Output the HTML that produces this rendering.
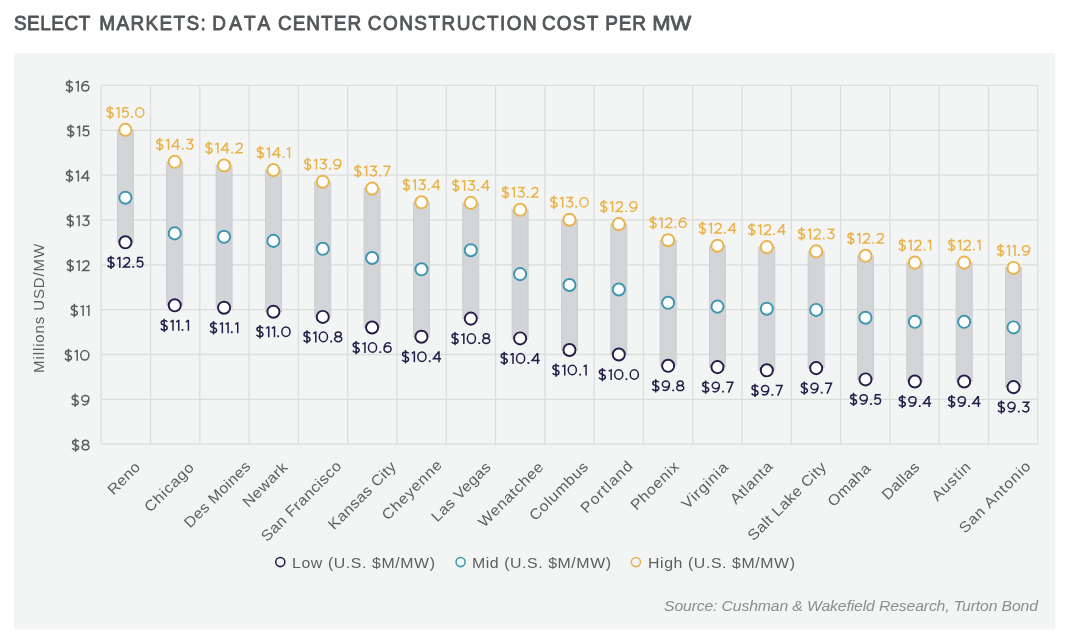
<!DOCTYPE html><html><head><meta charset="utf-8"><style>
html,body{margin:0;padding:0;background:#fff;width:1080px;height:643px;overflow:hidden}
svg{display:block;will-change:transform}
text{font-family:"Liberation Sans",sans-serif}
</style></head><body>
<svg width="1080" height="643" viewBox="0 0 1080 643">
<rect x="0" y="0" width="1080" height="643" fill="#ffffff"/>
<g font-size="20" fill="#53575a" stroke="#53575a" stroke-width="0.85" stroke-linejoin="round">
<text transform="translate(13.89 30) scale(0.95 1)" textLength="80.52" lengthAdjust="spacing">SELECT</text>
<text transform="translate(99.34 30) scale(0.95 1)" textLength="112.07" lengthAdjust="spacing">MARKETS:</text>
<text transform="translate(212.16 30) scale(0.95 1)" textLength="61.19" lengthAdjust="spacing">DATA</text>
<text transform="translate(277.92 30) scale(0.95 1)" textLength="87.63" lengthAdjust="spacing">CENTER</text>
<text transform="translate(367.83 30) scale(0.95 1)" textLength="177.72" lengthAdjust="spacing">CONSTRUCTION</text>
<text transform="translate(541.92 30) scale(0.95 1)" textLength="59.37" lengthAdjust="spacing">COST</text>
<text transform="translate(605.28 30) scale(0.95 1)" textLength="42.85" lengthAdjust="spacing">PER</text>
<text transform="translate(652.22 30)" textLength="39.01" lengthAdjust="spacingAndGlyphs">MW</text>
</g>
<rect x="14" y="53.1" width="1041.2" height="576.3" fill="#f3f4f4"/>
<path d="M101.20 85.43H1037.80 M101.20 130.28H1037.80 M101.20 175.12H1037.80 M101.20 219.97H1037.80 M101.20 264.81H1037.80 M101.20 309.66H1037.80 M101.20 354.51H1037.80 M101.20 399.35H1037.80 M101.20 444.20H1037.80 M101.20 85.43V444.20 M150.49 85.43V444.20 M199.79 85.43V444.20 M249.08 85.43V444.20 M298.38 85.43V444.20 M347.67 85.43V444.20 M396.97 85.43V444.20 M446.26 85.43V444.20 M495.56 85.43V444.20 M544.85 85.43V444.20 M594.15 85.43V444.20 M643.44 85.43V444.20 M692.74 85.43V444.20 M742.03 85.43V444.20 M791.33 85.43V444.20 M840.62 85.43V444.20 M889.92 85.43V444.20 M939.21 85.43V444.20 M988.51 85.43V444.20 M1037.80 85.43V444.20" stroke="#dcdddd" stroke-width="1.3" fill="none"/>
<g role="img" aria-label="$16"><g fill="none" stroke="#5c5f62" stroke-width="1.500"><path transform="translate(65.60 91.73) scale(1.0)" d="M6.95,-8.95 C6.35,-9.8 5.25,-10.275 3.8,-10.275 C2.0,-10.275 0.85,-9.4 0.85,-8.0 C0.85,-4.6 6.875,-6.6 6.875,-3.05 C6.875,-1.55 5.6,-0.725 3.8,-0.725 C2.15,-0.725 1.05,-1.3 0.45,-2.3 M3.8,-12.1 V1.2"/><path transform="translate(75.25 91.73) scale(1.0)" d="M2.975,-11 V0 M0.45,-8.75 L2.7,-10.45"/><path transform="translate(81.00 91.73) scale(1.0)" d="M0.725,-3.9 A3.575,3.175 0 1 0 7.875,-3.9 A3.575,3.175 0 1 0 0.725,-3.9 C0.725,-7.6 2.6,-10.275 5.0,-10.275 C6.0,-10.275 6.75,-9.95 7.35,-9.35"/></g></g>
<g role="img" aria-label="$15"><g fill="none" stroke="#5c5f62" stroke-width="1.500"><path transform="translate(66.85 136.58) scale(1.0)" d="M6.95,-8.95 C6.35,-9.8 5.25,-10.275 3.8,-10.275 C2.0,-10.275 0.85,-9.4 0.85,-8.0 C0.85,-4.6 6.875,-6.6 6.875,-3.05 C6.875,-1.55 5.6,-0.725 3.8,-0.725 C2.15,-0.725 1.05,-1.3 0.45,-2.3 M3.8,-12.1 V1.2"/><path transform="translate(76.50 136.58) scale(1.0)" d="M2.975,-11 V0 M0.45,-8.75 L2.7,-10.45"/><path transform="translate(82.25 136.58) scale(1.0)" d="M6.8,-10.275 H1.65 L1.15,-5.95 C1.95,-6.55 2.85,-6.85 3.85,-6.85 C5.6,-6.85 6.625,-5.5 6.625,-3.8 C6.625,-1.95 5.4,-0.725 3.7,-0.725 C2.3,-0.725 1.2,-1.35 0.6,-2.35"/></g></g>
<g role="img" aria-label="$14"><g fill="none" stroke="#5c5f62" stroke-width="1.500"><path transform="translate(65.70 181.42) scale(1.0)" d="M6.95,-8.95 C6.35,-9.8 5.25,-10.275 3.8,-10.275 C2.0,-10.275 0.85,-9.4 0.85,-8.0 C0.85,-4.6 6.875,-6.6 6.875,-3.05 C6.875,-1.55 5.6,-0.725 3.8,-0.725 C2.15,-0.725 1.05,-1.3 0.45,-2.3 M3.8,-12.1 V1.2"/><path transform="translate(75.35 181.42) scale(1.0)" d="M2.975,-11 V0 M0.45,-8.75 L2.7,-10.45"/><path transform="translate(81.10 181.42) scale(1.0)" d="M6.05,-10.45 L0.725,-3.4 H8.5 M6.35,-11 V0"/></g></g>
<g role="img" aria-label="$13"><g fill="none" stroke="#5c5f62" stroke-width="1.500"><path transform="translate(66.45 226.27) scale(1.0)" d="M6.95,-8.95 C6.35,-9.8 5.25,-10.275 3.8,-10.275 C2.0,-10.275 0.85,-9.4 0.85,-8.0 C0.85,-4.6 6.875,-6.6 6.875,-3.05 C6.875,-1.55 5.6,-0.725 3.8,-0.725 C2.15,-0.725 1.05,-1.3 0.45,-2.3 M3.8,-12.1 V1.2"/><path transform="translate(76.10 226.27) scale(1.0)" d="M2.975,-11 V0 M0.45,-8.75 L2.7,-10.45"/><path transform="translate(81.85 226.27) scale(1.0)" d="M0.75,-10.275 H6.85 L3.65,-6.55 C5.8,-6.55 7.025,-5.25 7.025,-3.55 C7.025,-1.8 5.7,-0.725 3.85,-0.725 C2.35,-0.725 1.15,-1.35 0.55,-2.45"/></g></g>
<g role="img" aria-label="$12"><g fill="none" stroke="#5c5f62" stroke-width="1.500"><path transform="translate(66.45 271.12) scale(1.0)" d="M6.95,-8.95 C6.35,-9.8 5.25,-10.275 3.8,-10.275 C2.0,-10.275 0.85,-9.4 0.85,-8.0 C0.85,-4.6 6.875,-6.6 6.875,-3.05 C6.875,-1.55 5.6,-0.725 3.8,-0.725 C2.15,-0.725 1.05,-1.3 0.45,-2.3 M3.8,-12.1 V1.2"/><path transform="translate(76.10 271.12) scale(1.0)" d="M2.975,-11 V0 M0.45,-8.75 L2.7,-10.45"/><path transform="translate(81.85 271.12) scale(1.0)" d="M0.8,-8.2 C1.25,-9.6 2.45,-10.275 3.95,-10.275 C5.75,-10.275 7.0,-9.15 7.0,-7.65 C7.0,-6.55 6.45,-5.75 5.35,-4.7 L0.95,-0.725 H7.75"/></g></g>
<g role="img" aria-label="$11"><g fill="none" stroke="#5c5f62" stroke-width="1.500"><path transform="translate(70.50 315.96) scale(1.0)" d="M6.95,-8.95 C6.35,-9.8 5.25,-10.275 3.8,-10.275 C2.0,-10.275 0.85,-9.4 0.85,-8.0 C0.85,-4.6 6.875,-6.6 6.875,-3.05 C6.875,-1.55 5.6,-0.725 3.8,-0.725 C2.15,-0.725 1.05,-1.3 0.45,-2.3 M3.8,-12.1 V1.2"/><path transform="translate(80.15 315.96) scale(1.0)" d="M2.975,-11 V0 M0.45,-8.75 L2.7,-10.45"/><path transform="translate(85.90 315.96) scale(1.0)" d="M2.975,-11 V0 M0.45,-8.75 L2.7,-10.45"/></g></g>
<g role="img" aria-label="$10"><g fill="none" stroke="#5c5f62" stroke-width="1.500"><path transform="translate(64.60 360.81) scale(1.0)" d="M6.95,-8.95 C6.35,-9.8 5.25,-10.275 3.8,-10.275 C2.0,-10.275 0.85,-9.4 0.85,-8.0 C0.85,-4.6 6.875,-6.6 6.875,-3.05 C6.875,-1.55 5.6,-0.725 3.8,-0.725 C2.15,-0.725 1.05,-1.3 0.45,-2.3 M3.8,-12.1 V1.2"/><path transform="translate(74.25 360.81) scale(1.0)" d="M2.975,-11 V0 M0.45,-8.75 L2.7,-10.45"/><path transform="translate(80.00 360.81) scale(1.0)" d="M0.725,-5.5 A4.075,4.775 0 1 0 8.875,-5.5 A4.075,4.775 0 1 0 0.725,-5.5 Z"/></g></g>
<g role="img" aria-label="$9"><g fill="none" stroke="#5c5f62" stroke-width="1.500"><path transform="translate(71.35 405.65) scale(1.0)" d="M6.95,-8.95 C6.35,-9.8 5.25,-10.275 3.8,-10.275 C2.0,-10.275 0.85,-9.4 0.85,-8.0 C0.85,-4.6 6.875,-6.6 6.875,-3.05 C6.875,-1.55 5.6,-0.725 3.8,-0.725 C2.15,-0.725 1.05,-1.3 0.45,-2.3 M3.8,-12.1 V1.2"/><path transform="translate(81.00 405.65) scale(1.0)" d="M7.875,-7.1 A3.575,3.175 0 1 0 0.725,-7.1 A3.575,3.175 0 1 0 7.875,-7.1 C7.875,-3.4 6.0,-0.725 3.6,-0.725 C2.6,-0.725 1.85,-1.05 1.25,-1.65"/></g></g>
<g role="img" aria-label="$8"><g fill="none" stroke="#5c5f62" stroke-width="1.500"><path transform="translate(71.75 450.50) scale(1.0)" d="M6.95,-8.95 C6.35,-9.8 5.25,-10.275 3.8,-10.275 C2.0,-10.275 0.85,-9.4 0.85,-8.0 C0.85,-4.6 6.875,-6.6 6.875,-3.05 C6.875,-1.55 5.6,-0.725 3.8,-0.725 C2.15,-0.725 1.05,-1.3 0.45,-2.3 M3.8,-12.1 V1.2"/><path transform="translate(81.40 450.50) scale(1.0)" d="M4.1,-5.9 A2.875,2.19 0 1 1 4.1,-10.275 A2.875,2.19 0 1 1 4.1,-5.9 A3.375,2.59 0 1 0 4.1,-0.725 A3.375,2.59 0 1 0 4.1,-5.9 Z"/></g></g>
<text id="axt" transform="translate(44.3 308.4) rotate(-90)" font-size="15" fill="#5c5f62" text-anchor="middle" textLength="129" lengthAdjust="spacing">Millions USD/MW</text>
<rect x="117.35" y="129.90" width="16.1" height="112.40" fill="#d3d4d7" stroke="#c9cacd" stroke-width="0.8"/>
<rect x="166.69" y="161.80" width="16.1" height="143.50" fill="#d3d4d7" stroke="#c9cacd" stroke-width="0.8"/>
<rect x="216.03" y="165.50" width="16.1" height="142.20" fill="#d3d4d7" stroke="#c9cacd" stroke-width="0.8"/>
<rect x="265.37" y="170.10" width="16.1" height="141.60" fill="#d3d4d7" stroke="#c9cacd" stroke-width="0.8"/>
<rect x="314.71" y="181.70" width="16.1" height="135.20" fill="#d3d4d7" stroke="#c9cacd" stroke-width="0.8"/>
<rect x="364.05" y="188.60" width="16.1" height="138.90" fill="#d3d4d7" stroke="#c9cacd" stroke-width="0.8"/>
<rect x="413.39" y="202.30" width="16.1" height="134.40" fill="#d3d4d7" stroke="#c9cacd" stroke-width="0.8"/>
<rect x="462.73" y="202.90" width="16.1" height="115.70" fill="#d3d4d7" stroke="#c9cacd" stroke-width="0.8"/>
<rect x="512.07" y="209.80" width="16.1" height="128.60" fill="#d3d4d7" stroke="#c9cacd" stroke-width="0.8"/>
<rect x="561.41" y="219.70" width="16.1" height="130.30" fill="#d3d4d7" stroke="#c9cacd" stroke-width="0.8"/>
<rect x="610.75" y="224.10" width="16.1" height="130.40" fill="#d3d4d7" stroke="#c9cacd" stroke-width="0.8"/>
<rect x="660.09" y="240.20" width="16.1" height="125.60" fill="#d3d4d7" stroke="#c9cacd" stroke-width="0.8"/>
<rect x="709.43" y="245.70" width="16.1" height="121.40" fill="#d3d4d7" stroke="#c9cacd" stroke-width="0.8"/>
<rect x="758.77" y="247.10" width="16.1" height="123.20" fill="#d3d4d7" stroke="#c9cacd" stroke-width="0.8"/>
<rect x="808.11" y="251.40" width="16.1" height="116.70" fill="#d3d4d7" stroke="#c9cacd" stroke-width="0.8"/>
<rect x="857.45" y="255.80" width="16.1" height="123.60" fill="#d3d4d7" stroke="#c9cacd" stroke-width="0.8"/>
<rect x="906.79" y="262.60" width="16.1" height="118.90" fill="#d3d4d7" stroke="#c9cacd" stroke-width="0.8"/>
<rect x="956.13" y="262.60" width="16.1" height="118.90" fill="#d3d4d7" stroke="#c9cacd" stroke-width="0.8"/>
<rect x="1005.47" y="267.90" width="16.1" height="119.20" fill="#d3d4d7" stroke="#c9cacd" stroke-width="0.8"/>
<circle cx="125.40" cy="129.90" r="6.05" fill="#fff" stroke="#e9b34a" stroke-width="1.95"/>
<circle cx="125.40" cy="197.70" r="6.05" fill="#fff" stroke="#3d96af" stroke-width="1.95"/>
<circle cx="125.40" cy="242.30" r="6.05" fill="#fff" stroke="#231f49" stroke-width="1.95"/>
<circle cx="174.74" cy="161.80" r="6.05" fill="#fff" stroke="#e9b34a" stroke-width="1.95"/>
<circle cx="174.74" cy="233.40" r="6.05" fill="#fff" stroke="#3d96af" stroke-width="1.95"/>
<circle cx="174.74" cy="305.30" r="6.05" fill="#fff" stroke="#231f49" stroke-width="1.95"/>
<circle cx="224.08" cy="165.50" r="6.05" fill="#fff" stroke="#e9b34a" stroke-width="1.95"/>
<circle cx="224.08" cy="236.80" r="6.05" fill="#fff" stroke="#3d96af" stroke-width="1.95"/>
<circle cx="224.08" cy="307.70" r="6.05" fill="#fff" stroke="#231f49" stroke-width="1.95"/>
<circle cx="273.42" cy="170.10" r="6.05" fill="#fff" stroke="#e9b34a" stroke-width="1.95"/>
<circle cx="273.42" cy="240.90" r="6.05" fill="#fff" stroke="#3d96af" stroke-width="1.95"/>
<circle cx="273.42" cy="311.70" r="6.05" fill="#fff" stroke="#231f49" stroke-width="1.95"/>
<circle cx="322.76" cy="181.70" r="6.05" fill="#fff" stroke="#e9b34a" stroke-width="1.95"/>
<circle cx="322.76" cy="248.80" r="6.05" fill="#fff" stroke="#3d96af" stroke-width="1.95"/>
<circle cx="322.76" cy="316.90" r="6.05" fill="#fff" stroke="#231f49" stroke-width="1.95"/>
<circle cx="372.10" cy="188.60" r="6.05" fill="#fff" stroke="#e9b34a" stroke-width="1.95"/>
<circle cx="372.10" cy="258.00" r="6.05" fill="#fff" stroke="#3d96af" stroke-width="1.95"/>
<circle cx="372.10" cy="327.50" r="6.05" fill="#fff" stroke="#231f49" stroke-width="1.95"/>
<circle cx="421.44" cy="202.30" r="6.05" fill="#fff" stroke="#e9b34a" stroke-width="1.95"/>
<circle cx="421.44" cy="269.30" r="6.05" fill="#fff" stroke="#3d96af" stroke-width="1.95"/>
<circle cx="421.44" cy="336.70" r="6.05" fill="#fff" stroke="#231f49" stroke-width="1.95"/>
<circle cx="470.78" cy="202.90" r="6.05" fill="#fff" stroke="#e9b34a" stroke-width="1.95"/>
<circle cx="470.78" cy="250.20" r="6.05" fill="#fff" stroke="#3d96af" stroke-width="1.95"/>
<circle cx="470.78" cy="318.60" r="6.05" fill="#fff" stroke="#231f49" stroke-width="1.95"/>
<circle cx="520.12" cy="209.80" r="6.05" fill="#fff" stroke="#e9b34a" stroke-width="1.95"/>
<circle cx="520.12" cy="274.10" r="6.05" fill="#fff" stroke="#3d96af" stroke-width="1.95"/>
<circle cx="520.12" cy="338.40" r="6.05" fill="#fff" stroke="#231f49" stroke-width="1.95"/>
<circle cx="569.46" cy="219.70" r="6.05" fill="#fff" stroke="#e9b34a" stroke-width="1.95"/>
<circle cx="569.46" cy="285.00" r="6.05" fill="#fff" stroke="#3d96af" stroke-width="1.95"/>
<circle cx="569.46" cy="350.00" r="6.05" fill="#fff" stroke="#231f49" stroke-width="1.95"/>
<circle cx="618.80" cy="224.10" r="6.05" fill="#fff" stroke="#e9b34a" stroke-width="1.95"/>
<circle cx="618.80" cy="289.50" r="6.05" fill="#fff" stroke="#3d96af" stroke-width="1.95"/>
<circle cx="618.80" cy="354.50" r="6.05" fill="#fff" stroke="#231f49" stroke-width="1.95"/>
<circle cx="668.14" cy="240.20" r="6.05" fill="#fff" stroke="#e9b34a" stroke-width="1.95"/>
<circle cx="668.14" cy="302.80" r="6.05" fill="#fff" stroke="#3d96af" stroke-width="1.95"/>
<circle cx="668.14" cy="365.80" r="6.05" fill="#fff" stroke="#231f49" stroke-width="1.95"/>
<circle cx="717.48" cy="245.70" r="6.05" fill="#fff" stroke="#e9b34a" stroke-width="1.95"/>
<circle cx="717.48" cy="306.60" r="6.05" fill="#fff" stroke="#3d96af" stroke-width="1.95"/>
<circle cx="717.48" cy="367.10" r="6.05" fill="#fff" stroke="#231f49" stroke-width="1.95"/>
<circle cx="766.82" cy="247.10" r="6.05" fill="#fff" stroke="#e9b34a" stroke-width="1.95"/>
<circle cx="766.82" cy="308.70" r="6.05" fill="#fff" stroke="#3d96af" stroke-width="1.95"/>
<circle cx="766.82" cy="370.30" r="6.05" fill="#fff" stroke="#231f49" stroke-width="1.95"/>
<circle cx="816.16" cy="251.40" r="6.05" fill="#fff" stroke="#e9b34a" stroke-width="1.95"/>
<circle cx="816.16" cy="309.90" r="6.05" fill="#fff" stroke="#3d96af" stroke-width="1.95"/>
<circle cx="816.16" cy="368.10" r="6.05" fill="#fff" stroke="#231f49" stroke-width="1.95"/>
<circle cx="865.50" cy="255.80" r="6.05" fill="#fff" stroke="#e9b34a" stroke-width="1.95"/>
<circle cx="865.50" cy="317.70" r="6.05" fill="#fff" stroke="#3d96af" stroke-width="1.95"/>
<circle cx="865.50" cy="379.40" r="6.05" fill="#fff" stroke="#231f49" stroke-width="1.95"/>
<circle cx="914.84" cy="262.60" r="6.05" fill="#fff" stroke="#e9b34a" stroke-width="1.95"/>
<circle cx="914.84" cy="321.80" r="6.05" fill="#fff" stroke="#3d96af" stroke-width="1.95"/>
<circle cx="914.84" cy="381.50" r="6.05" fill="#fff" stroke="#231f49" stroke-width="1.95"/>
<circle cx="964.18" cy="262.60" r="6.05" fill="#fff" stroke="#e9b34a" stroke-width="1.95"/>
<circle cx="964.18" cy="321.80" r="6.05" fill="#fff" stroke="#3d96af" stroke-width="1.95"/>
<circle cx="964.18" cy="381.50" r="6.05" fill="#fff" stroke="#231f49" stroke-width="1.95"/>
<circle cx="1013.52" cy="267.90" r="6.05" fill="#fff" stroke="#e9b34a" stroke-width="1.95"/>
<circle cx="1013.52" cy="327.40" r="6.05" fill="#fff" stroke="#3d96af" stroke-width="1.95"/>
<circle cx="1013.52" cy="387.10" r="6.05" fill="#fff" stroke="#231f49" stroke-width="1.95"/>
<g role="img" aria-label="$15.0"><g fill="none" stroke="#e9b34a" stroke-width="1.500"><path transform="translate(106.25 117.90) scale(1.0)" d="M6.95,-8.95 C6.35,-9.8 5.25,-10.275 3.8,-10.275 C2.0,-10.275 0.85,-9.4 0.85,-8.0 C0.85,-4.6 6.875,-6.6 6.875,-3.05 C6.875,-1.55 5.6,-0.725 3.8,-0.725 C2.15,-0.725 1.05,-1.3 0.45,-2.3 M3.8,-12.1 V1.2"/><path transform="translate(115.90 117.90) scale(1.0)" d="M2.975,-11 V0 M0.45,-8.75 L2.7,-10.45"/><path transform="translate(121.65 117.90) scale(1.0)" d="M6.8,-10.275 H1.65 L1.15,-5.95 C1.95,-6.55 2.85,-6.85 3.85,-6.85 C5.6,-6.85 6.625,-5.5 6.625,-3.8 C6.625,-1.95 5.4,-0.725 3.7,-0.725 C2.3,-0.725 1.2,-1.35 0.6,-2.35"/><path transform="translate(134.95 117.90) scale(1.0)" d="M0.725,-5.5 A4.075,4.775 0 1 0 8.875,-5.5 A4.075,4.775 0 1 0 0.725,-5.5 Z"/></g><g fill="#e9b34a"><rect x="131.05" y="116.05" width="1.85" height="1.85" rx="0.35"/></g></g>
<g role="img" aria-label="$12.5"><g fill="none" stroke="#231f49" stroke-width="1.500"><path transform="translate(107.18 267.80) scale(1.0)" d="M6.95,-8.95 C6.35,-9.8 5.25,-10.275 3.8,-10.275 C2.0,-10.275 0.85,-9.4 0.85,-8.0 C0.85,-4.6 6.875,-6.6 6.875,-3.05 C6.875,-1.55 5.6,-0.725 3.8,-0.725 C2.15,-0.725 1.05,-1.3 0.45,-2.3 M3.8,-12.1 V1.2"/><path transform="translate(116.83 267.80) scale(1.0)" d="M2.975,-11 V0 M0.45,-8.75 L2.7,-10.45"/><path transform="translate(122.58 267.80) scale(1.0)" d="M0.8,-8.2 C1.25,-9.6 2.45,-10.275 3.95,-10.275 C5.75,-10.275 7.0,-9.15 7.0,-7.65 C7.0,-6.55 6.45,-5.75 5.35,-4.7 L0.95,-0.725 H7.75"/><path transform="translate(136.28 267.80) scale(1.0)" d="M6.8,-10.275 H1.65 L1.15,-5.95 C1.95,-6.55 2.85,-6.85 3.85,-6.85 C5.6,-6.85 6.625,-5.5 6.625,-3.8 C6.625,-1.95 5.4,-0.725 3.7,-0.725 C2.3,-0.725 1.2,-1.35 0.6,-2.35"/></g><g fill="#231f49"><rect x="132.38" y="265.95" width="1.85" height="1.85" rx="0.35"/></g></g>
<g role="img" aria-label="$14.3"><g fill="none" stroke="#e9b34a" stroke-width="1.500"><path transform="translate(155.94 149.80) scale(1.0)" d="M6.95,-8.95 C6.35,-9.8 5.25,-10.275 3.8,-10.275 C2.0,-10.275 0.85,-9.4 0.85,-8.0 C0.85,-4.6 6.875,-6.6 6.875,-3.05 C6.875,-1.55 5.6,-0.725 3.8,-0.725 C2.15,-0.725 1.05,-1.3 0.45,-2.3 M3.8,-12.1 V1.2"/><path transform="translate(165.59 149.80) scale(1.0)" d="M2.975,-11 V0 M0.45,-8.75 L2.7,-10.45"/><path transform="translate(171.34 149.80) scale(1.0)" d="M6.05,-10.45 L0.725,-3.4 H8.5 M6.35,-11 V0"/><path transform="translate(185.79 149.80) scale(1.0)" d="M0.75,-10.275 H6.85 L3.65,-6.55 C5.8,-6.55 7.025,-5.25 7.025,-3.55 C7.025,-1.8 5.7,-0.725 3.85,-0.725 C2.35,-0.725 1.15,-1.35 0.55,-2.45"/></g><g fill="#e9b34a"><rect x="181.89" y="147.95" width="1.85" height="1.85" rx="0.35"/></g></g>
<g role="img" aria-label="$11.1"><g fill="none" stroke="#231f49" stroke-width="1.500"><path transform="translate(160.37 330.80) scale(1.0)" d="M6.95,-8.95 C6.35,-9.8 5.25,-10.275 3.8,-10.275 C2.0,-10.275 0.85,-9.4 0.85,-8.0 C0.85,-4.6 6.875,-6.6 6.875,-3.05 C6.875,-1.55 5.6,-0.725 3.8,-0.725 C2.15,-0.725 1.05,-1.3 0.45,-2.3 M3.8,-12.1 V1.2"/><path transform="translate(170.02 330.80) scale(1.0)" d="M2.975,-11 V0 M0.45,-8.75 L2.7,-10.45"/><path transform="translate(175.77 330.80) scale(1.0)" d="M2.975,-11 V0 M0.45,-8.75 L2.7,-10.45"/><path transform="translate(185.42 330.80) scale(1.0)" d="M2.975,-11 V0 M0.45,-8.75 L2.7,-10.45"/></g><g fill="#231f49"><rect x="181.52" y="328.95" width="1.85" height="1.85" rx="0.35"/></g></g>
<g role="img" aria-label="$14.2"><g fill="none" stroke="#e9b34a" stroke-width="1.500"><path transform="translate(205.28 153.50) scale(1.0)" d="M6.95,-8.95 C6.35,-9.8 5.25,-10.275 3.8,-10.275 C2.0,-10.275 0.85,-9.4 0.85,-8.0 C0.85,-4.6 6.875,-6.6 6.875,-3.05 C6.875,-1.55 5.6,-0.725 3.8,-0.725 C2.15,-0.725 1.05,-1.3 0.45,-2.3 M3.8,-12.1 V1.2"/><path transform="translate(214.93 153.50) scale(1.0)" d="M2.975,-11 V0 M0.45,-8.75 L2.7,-10.45"/><path transform="translate(220.68 153.50) scale(1.0)" d="M6.05,-10.45 L0.725,-3.4 H8.5 M6.35,-11 V0"/><path transform="translate(235.13 153.50) scale(1.0)" d="M0.8,-8.2 C1.25,-9.6 2.45,-10.275 3.95,-10.275 C5.75,-10.275 7.0,-9.15 7.0,-7.65 C7.0,-6.55 6.45,-5.75 5.35,-4.7 L0.95,-0.725 H7.75"/></g><g fill="#e9b34a"><rect x="231.23" y="151.65" width="1.85" height="1.85" rx="0.35"/></g></g>
<g role="img" aria-label="$11.1"><g fill="none" stroke="#231f49" stroke-width="1.500"><path transform="translate(209.71 333.20) scale(1.0)" d="M6.95,-8.95 C6.35,-9.8 5.25,-10.275 3.8,-10.275 C2.0,-10.275 0.85,-9.4 0.85,-8.0 C0.85,-4.6 6.875,-6.6 6.875,-3.05 C6.875,-1.55 5.6,-0.725 3.8,-0.725 C2.15,-0.725 1.05,-1.3 0.45,-2.3 M3.8,-12.1 V1.2"/><path transform="translate(219.36 333.20) scale(1.0)" d="M2.975,-11 V0 M0.45,-8.75 L2.7,-10.45"/><path transform="translate(225.11 333.20) scale(1.0)" d="M2.975,-11 V0 M0.45,-8.75 L2.7,-10.45"/><path transform="translate(234.76 333.20) scale(1.0)" d="M2.975,-11 V0 M0.45,-8.75 L2.7,-10.45"/></g><g fill="#231f49"><rect x="230.86" y="331.35" width="1.85" height="1.85" rx="0.35"/></g></g>
<g role="img" aria-label="$14.1"><g fill="none" stroke="#e9b34a" stroke-width="1.500"><path transform="translate(256.65 158.10) scale(1.0)" d="M6.95,-8.95 C6.35,-9.8 5.25,-10.275 3.8,-10.275 C2.0,-10.275 0.85,-9.4 0.85,-8.0 C0.85,-4.6 6.875,-6.6 6.875,-3.05 C6.875,-1.55 5.6,-0.725 3.8,-0.725 C2.15,-0.725 1.05,-1.3 0.45,-2.3 M3.8,-12.1 V1.2"/><path transform="translate(266.30 158.10) scale(1.0)" d="M2.975,-11 V0 M0.45,-8.75 L2.7,-10.45"/><path transform="translate(272.05 158.10) scale(1.0)" d="M6.05,-10.45 L0.725,-3.4 H8.5 M6.35,-11 V0"/><path transform="translate(286.50 158.10) scale(1.0)" d="M2.975,-11 V0 M0.45,-8.75 L2.7,-10.45"/></g><g fill="#e9b34a"><rect x="282.60" y="156.25" width="1.85" height="1.85" rx="0.35"/></g></g>
<g role="img" aria-label="$11.0"><g fill="none" stroke="#231f49" stroke-width="1.500"><path transform="translate(256.10 337.20) scale(1.0)" d="M6.95,-8.95 C6.35,-9.8 5.25,-10.275 3.8,-10.275 C2.0,-10.275 0.85,-9.4 0.85,-8.0 C0.85,-4.6 6.875,-6.6 6.875,-3.05 C6.875,-1.55 5.6,-0.725 3.8,-0.725 C2.15,-0.725 1.05,-1.3 0.45,-2.3 M3.8,-12.1 V1.2"/><path transform="translate(265.75 337.20) scale(1.0)" d="M2.975,-11 V0 M0.45,-8.75 L2.7,-10.45"/><path transform="translate(271.50 337.20) scale(1.0)" d="M2.975,-11 V0 M0.45,-8.75 L2.7,-10.45"/><path transform="translate(281.14 337.20) scale(1.0)" d="M0.725,-5.5 A4.075,4.775 0 1 0 8.875,-5.5 A4.075,4.775 0 1 0 0.725,-5.5 Z"/></g><g fill="#231f49"><rect x="277.25" y="335.35" width="1.85" height="1.85" rx="0.35"/></g></g>
<g role="img" aria-label="$13.9"><g fill="none" stroke="#e9b34a" stroke-width="1.500"><path transform="translate(303.91 169.70) scale(1.0)" d="M6.95,-8.95 C6.35,-9.8 5.25,-10.275 3.8,-10.275 C2.0,-10.275 0.85,-9.4 0.85,-8.0 C0.85,-4.6 6.875,-6.6 6.875,-3.05 C6.875,-1.55 5.6,-0.725 3.8,-0.725 C2.15,-0.725 1.05,-1.3 0.45,-2.3 M3.8,-12.1 V1.2"/><path transform="translate(313.56 169.70) scale(1.0)" d="M2.975,-11 V0 M0.45,-8.75 L2.7,-10.45"/><path transform="translate(319.31 169.70) scale(1.0)" d="M0.75,-10.275 H6.85 L3.65,-6.55 C5.8,-6.55 7.025,-5.25 7.025,-3.55 C7.025,-1.8 5.7,-0.725 3.85,-0.725 C2.35,-0.725 1.15,-1.35 0.55,-2.45"/><path transform="translate(333.01 169.70) scale(1.0)" d="M7.875,-7.1 A3.575,3.175 0 1 0 0.725,-7.1 A3.575,3.175 0 1 0 7.875,-7.1 C7.875,-3.4 6.0,-0.725 3.6,-0.725 C2.6,-0.725 1.85,-1.05 1.25,-1.65"/></g><g fill="#e9b34a"><rect x="329.11" y="167.85" width="1.85" height="1.85" rx="0.35"/></g></g>
<g role="img" aria-label="$10.8"><g fill="none" stroke="#231f49" stroke-width="1.500"><path transform="translate(303.19 342.40) scale(1.0)" d="M6.95,-8.95 C6.35,-9.8 5.25,-10.275 3.8,-10.275 C2.0,-10.275 0.85,-9.4 0.85,-8.0 C0.85,-4.6 6.875,-6.6 6.875,-3.05 C6.875,-1.55 5.6,-0.725 3.8,-0.725 C2.15,-0.725 1.05,-1.3 0.45,-2.3 M3.8,-12.1 V1.2"/><path transform="translate(312.83 342.40) scale(1.0)" d="M2.975,-11 V0 M0.45,-8.75 L2.7,-10.45"/><path transform="translate(318.58 342.40) scale(1.0)" d="M0.725,-5.5 A4.075,4.775 0 1 0 8.875,-5.5 A4.075,4.775 0 1 0 0.725,-5.5 Z"/><path transform="translate(334.13 342.40) scale(1.0)" d="M4.1,-5.9 A2.875,2.19 0 1 1 4.1,-10.275 A2.875,2.19 0 1 1 4.1,-5.9 A3.375,2.59 0 1 0 4.1,-0.725 A3.375,2.59 0 1 0 4.1,-5.9 Z"/></g><g fill="#231f49"><rect x="330.23" y="340.55" width="1.85" height="1.85" rx="0.35"/></g></g>
<g role="img" aria-label="$13.7"><g fill="none" stroke="#e9b34a" stroke-width="1.500"><path transform="translate(354.00 176.60) scale(1.0)" d="M6.95,-8.95 C6.35,-9.8 5.25,-10.275 3.8,-10.275 C2.0,-10.275 0.85,-9.4 0.85,-8.0 C0.85,-4.6 6.875,-6.6 6.875,-3.05 C6.875,-1.55 5.6,-0.725 3.8,-0.725 C2.15,-0.725 1.05,-1.3 0.45,-2.3 M3.8,-12.1 V1.2"/><path transform="translate(363.65 176.60) scale(1.0)" d="M2.975,-11 V0 M0.45,-8.75 L2.7,-10.45"/><path transform="translate(369.40 176.60) scale(1.0)" d="M0.75,-10.275 H6.85 L3.65,-6.55 C5.8,-6.55 7.025,-5.25 7.025,-3.55 C7.025,-1.8 5.7,-0.725 3.85,-0.725 C2.35,-0.725 1.15,-1.35 0.55,-2.45"/><path transform="translate(383.10 176.60) scale(1.0)" d="M0.3,-10.275 H6.75 L2.35,0"/></g><g fill="#e9b34a"><rect x="379.20" y="174.75" width="1.85" height="1.85" rx="0.35"/></g></g>
<g role="img" aria-label="$10.6"><g fill="none" stroke="#231f49" stroke-width="1.500"><path transform="translate(352.33 353.00) scale(1.0)" d="M6.95,-8.95 C6.35,-9.8 5.25,-10.275 3.8,-10.275 C2.0,-10.275 0.85,-9.4 0.85,-8.0 C0.85,-4.6 6.875,-6.6 6.875,-3.05 C6.875,-1.55 5.6,-0.725 3.8,-0.725 C2.15,-0.725 1.05,-1.3 0.45,-2.3 M3.8,-12.1 V1.2"/><path transform="translate(361.98 353.00) scale(1.0)" d="M2.975,-11 V0 M0.45,-8.75 L2.7,-10.45"/><path transform="translate(367.73 353.00) scale(1.0)" d="M0.725,-5.5 A4.075,4.775 0 1 0 8.875,-5.5 A4.075,4.775 0 1 0 0.725,-5.5 Z"/><path transform="translate(383.27 353.00) scale(1.0)" d="M0.725,-3.9 A3.575,3.175 0 1 0 7.875,-3.9 A3.575,3.175 0 1 0 0.725,-3.9 C0.725,-7.6 2.6,-10.275 5.0,-10.275 C6.0,-10.275 6.75,-9.95 7.35,-9.35"/></g><g fill="#231f49"><rect x="379.38" y="351.15" width="1.85" height="1.85" rx="0.35"/></g></g>
<g role="img" aria-label="$13.4"><g fill="none" stroke="#e9b34a" stroke-width="1.500"><path transform="translate(402.64 190.30) scale(1.0)" d="M6.95,-8.95 C6.35,-9.8 5.25,-10.275 3.8,-10.275 C2.0,-10.275 0.85,-9.4 0.85,-8.0 C0.85,-4.6 6.875,-6.6 6.875,-3.05 C6.875,-1.55 5.6,-0.725 3.8,-0.725 C2.15,-0.725 1.05,-1.3 0.45,-2.3 M3.8,-12.1 V1.2"/><path transform="translate(412.29 190.30) scale(1.0)" d="M2.975,-11 V0 M0.45,-8.75 L2.7,-10.45"/><path transform="translate(418.04 190.30) scale(1.0)" d="M0.75,-10.275 H6.85 L3.65,-6.55 C5.8,-6.55 7.025,-5.25 7.025,-3.55 C7.025,-1.8 5.7,-0.725 3.85,-0.725 C2.35,-0.725 1.15,-1.35 0.55,-2.45"/><path transform="translate(431.74 190.30) scale(1.0)" d="M6.05,-10.45 L0.725,-3.4 H8.5 M6.35,-11 V0"/></g><g fill="#e9b34a"><rect x="427.84" y="188.45" width="1.85" height="1.85" rx="0.35"/></g></g>
<g role="img" aria-label="$10.4"><g fill="none" stroke="#231f49" stroke-width="1.500"><path transform="translate(401.72 362.20) scale(1.0)" d="M6.95,-8.95 C6.35,-9.8 5.25,-10.275 3.8,-10.275 C2.0,-10.275 0.85,-9.4 0.85,-8.0 C0.85,-4.6 6.875,-6.6 6.875,-3.05 C6.875,-1.55 5.6,-0.725 3.8,-0.725 C2.15,-0.725 1.05,-1.3 0.45,-2.3 M3.8,-12.1 V1.2"/><path transform="translate(411.37 362.20) scale(1.0)" d="M2.975,-11 V0 M0.45,-8.75 L2.7,-10.45"/><path transform="translate(417.12 362.20) scale(1.0)" d="M0.725,-5.5 A4.075,4.775 0 1 0 8.875,-5.5 A4.075,4.775 0 1 0 0.725,-5.5 Z"/><path transform="translate(432.66 362.20) scale(1.0)" d="M6.05,-10.45 L0.725,-3.4 H8.5 M6.35,-11 V0"/></g><g fill="#231f49"><rect x="428.76" y="360.35" width="1.85" height="1.85" rx="0.35"/></g></g>
<g role="img" aria-label="$13.4"><g fill="none" stroke="#e9b34a" stroke-width="1.500"><path transform="translate(451.98 190.90) scale(1.0)" d="M6.95,-8.95 C6.35,-9.8 5.25,-10.275 3.8,-10.275 C2.0,-10.275 0.85,-9.4 0.85,-8.0 C0.85,-4.6 6.875,-6.6 6.875,-3.05 C6.875,-1.55 5.6,-0.725 3.8,-0.725 C2.15,-0.725 1.05,-1.3 0.45,-2.3 M3.8,-12.1 V1.2"/><path transform="translate(461.63 190.90) scale(1.0)" d="M2.975,-11 V0 M0.45,-8.75 L2.7,-10.45"/><path transform="translate(467.38 190.90) scale(1.0)" d="M0.75,-10.275 H6.85 L3.65,-6.55 C5.8,-6.55 7.025,-5.25 7.025,-3.55 C7.025,-1.8 5.7,-0.725 3.85,-0.725 C2.35,-0.725 1.15,-1.35 0.55,-2.45"/><path transform="translate(481.08 190.90) scale(1.0)" d="M6.05,-10.45 L0.725,-3.4 H8.5 M6.35,-11 V0"/></g><g fill="#e9b34a"><rect x="477.18" y="189.05" width="1.85" height="1.85" rx="0.35"/></g></g>
<g role="img" aria-label="$10.8"><g fill="none" stroke="#231f49" stroke-width="1.500"><path transform="translate(451.20 344.10) scale(1.0)" d="M6.95,-8.95 C6.35,-9.8 5.25,-10.275 3.8,-10.275 C2.0,-10.275 0.85,-9.4 0.85,-8.0 C0.85,-4.6 6.875,-6.6 6.875,-3.05 C6.875,-1.55 5.6,-0.725 3.8,-0.725 C2.15,-0.725 1.05,-1.3 0.45,-2.3 M3.8,-12.1 V1.2"/><path transform="translate(460.85 344.10) scale(1.0)" d="M2.975,-11 V0 M0.45,-8.75 L2.7,-10.45"/><path transform="translate(466.60 344.10) scale(1.0)" d="M0.725,-5.5 A4.075,4.775 0 1 0 8.875,-5.5 A4.075,4.775 0 1 0 0.725,-5.5 Z"/><path transform="translate(482.15 344.10) scale(1.0)" d="M4.1,-5.9 A2.875,2.19 0 1 1 4.1,-10.275 A2.875,2.19 0 1 1 4.1,-5.9 A3.375,2.59 0 1 0 4.1,-0.725 A3.375,2.59 0 1 0 4.1,-5.9 Z"/></g><g fill="#231f49"><rect x="478.25" y="342.25" width="1.85" height="1.85" rx="0.35"/></g></g>
<g role="img" aria-label="$13.2"><g fill="none" stroke="#e9b34a" stroke-width="1.500"><path transform="translate(501.69 197.80) scale(1.0)" d="M6.95,-8.95 C6.35,-9.8 5.25,-10.275 3.8,-10.275 C2.0,-10.275 0.85,-9.4 0.85,-8.0 C0.85,-4.6 6.875,-6.6 6.875,-3.05 C6.875,-1.55 5.6,-0.725 3.8,-0.725 C2.15,-0.725 1.05,-1.3 0.45,-2.3 M3.8,-12.1 V1.2"/><path transform="translate(511.34 197.80) scale(1.0)" d="M2.975,-11 V0 M0.45,-8.75 L2.7,-10.45"/><path transform="translate(517.10 197.80) scale(1.0)" d="M0.75,-10.275 H6.85 L3.65,-6.55 C5.8,-6.55 7.025,-5.25 7.025,-3.55 C7.025,-1.8 5.7,-0.725 3.85,-0.725 C2.35,-0.725 1.15,-1.35 0.55,-2.45"/><path transform="translate(530.79 197.80) scale(1.0)" d="M0.8,-8.2 C1.25,-9.6 2.45,-10.275 3.95,-10.275 C5.75,-10.275 7.0,-9.15 7.0,-7.65 C7.0,-6.55 6.45,-5.75 5.35,-4.7 L0.95,-0.725 H7.75"/></g><g fill="#e9b34a"><rect x="526.89" y="195.95" width="1.85" height="1.85" rx="0.35"/></g></g>
<g role="img" aria-label="$10.4"><g fill="none" stroke="#231f49" stroke-width="1.500"><path transform="translate(500.39 363.90) scale(1.0)" d="M6.95,-8.95 C6.35,-9.8 5.25,-10.275 3.8,-10.275 C2.0,-10.275 0.85,-9.4 0.85,-8.0 C0.85,-4.6 6.875,-6.6 6.875,-3.05 C6.875,-1.55 5.6,-0.725 3.8,-0.725 C2.15,-0.725 1.05,-1.3 0.45,-2.3 M3.8,-12.1 V1.2"/><path transform="translate(510.04 363.90) scale(1.0)" d="M2.975,-11 V0 M0.45,-8.75 L2.7,-10.45"/><path transform="translate(515.79 363.90) scale(1.0)" d="M0.725,-5.5 A4.075,4.775 0 1 0 8.875,-5.5 A4.075,4.775 0 1 0 0.725,-5.5 Z"/><path transform="translate(531.34 363.90) scale(1.0)" d="M6.05,-10.45 L0.725,-3.4 H8.5 M6.35,-11 V0"/></g><g fill="#231f49"><rect x="527.44" y="362.05" width="1.85" height="1.85" rx="0.35"/></g></g>
<g role="img" aria-label="$13.0"><g fill="none" stroke="#e9b34a" stroke-width="1.500"><path transform="translate(550.11 207.70) scale(1.0)" d="M6.95,-8.95 C6.35,-9.8 5.25,-10.275 3.8,-10.275 C2.0,-10.275 0.85,-9.4 0.85,-8.0 C0.85,-4.6 6.875,-6.6 6.875,-3.05 C6.875,-1.55 5.6,-0.725 3.8,-0.725 C2.15,-0.725 1.05,-1.3 0.45,-2.3 M3.8,-12.1 V1.2"/><path transform="translate(559.76 207.70) scale(1.0)" d="M2.975,-11 V0 M0.45,-8.75 L2.7,-10.45"/><path transform="translate(565.51 207.70) scale(1.0)" d="M0.75,-10.275 H6.85 L3.65,-6.55 C5.8,-6.55 7.025,-5.25 7.025,-3.55 C7.025,-1.8 5.7,-0.725 3.85,-0.725 C2.35,-0.725 1.15,-1.35 0.55,-2.45"/><path transform="translate(579.21 207.70) scale(1.0)" d="M0.725,-5.5 A4.075,4.775 0 1 0 8.875,-5.5 A4.075,4.775 0 1 0 0.725,-5.5 Z"/></g><g fill="#e9b34a"><rect x="575.31" y="205.85" width="1.85" height="1.85" rx="0.35"/></g></g>
<g role="img" aria-label="$10.1"><g fill="none" stroke="#231f49" stroke-width="1.500"><path transform="translate(552.13 375.50) scale(1.0)" d="M6.95,-8.95 C6.35,-9.8 5.25,-10.275 3.8,-10.275 C2.0,-10.275 0.85,-9.4 0.85,-8.0 C0.85,-4.6 6.875,-6.6 6.875,-3.05 C6.875,-1.55 5.6,-0.725 3.8,-0.725 C2.15,-0.725 1.05,-1.3 0.45,-2.3 M3.8,-12.1 V1.2"/><path transform="translate(561.78 375.50) scale(1.0)" d="M2.975,-11 V0 M0.45,-8.75 L2.7,-10.45"/><path transform="translate(567.53 375.50) scale(1.0)" d="M0.725,-5.5 A4.075,4.775 0 1 0 8.875,-5.5 A4.075,4.775 0 1 0 0.725,-5.5 Z"/><path transform="translate(583.08 375.50) scale(1.0)" d="M2.975,-11 V0 M0.45,-8.75 L2.7,-10.45"/></g><g fill="#231f49"><rect x="579.18" y="373.65" width="1.85" height="1.85" rx="0.35"/></g></g>
<g role="img" aria-label="$12.9"><g fill="none" stroke="#e9b34a" stroke-width="1.500"><path transform="translate(599.95 212.10) scale(1.0)" d="M6.95,-8.95 C6.35,-9.8 5.25,-10.275 3.8,-10.275 C2.0,-10.275 0.85,-9.4 0.85,-8.0 C0.85,-4.6 6.875,-6.6 6.875,-3.05 C6.875,-1.55 5.6,-0.725 3.8,-0.725 C2.15,-0.725 1.05,-1.3 0.45,-2.3 M3.8,-12.1 V1.2"/><path transform="translate(609.60 212.10) scale(1.0)" d="M2.975,-11 V0 M0.45,-8.75 L2.7,-10.45"/><path transform="translate(615.35 212.10) scale(1.0)" d="M0.8,-8.2 C1.25,-9.6 2.45,-10.275 3.95,-10.275 C5.75,-10.275 7.0,-9.15 7.0,-7.65 C7.0,-6.55 6.45,-5.75 5.35,-4.7 L0.95,-0.725 H7.75"/><path transform="translate(629.05 212.10) scale(1.0)" d="M7.875,-7.1 A3.575,3.175 0 1 0 0.725,-7.1 A3.575,3.175 0 1 0 7.875,-7.1 C7.875,-3.4 6.0,-0.725 3.6,-0.725 C2.6,-0.725 1.85,-1.05 1.25,-1.65"/></g><g fill="#e9b34a"><rect x="625.15" y="210.25" width="1.85" height="1.85" rx="0.35"/></g></g>
<g role="img" aria-label="$10.0"><g fill="none" stroke="#231f49" stroke-width="1.500"><path transform="translate(598.53 380.00) scale(1.0)" d="M6.95,-8.95 C6.35,-9.8 5.25,-10.275 3.8,-10.275 C2.0,-10.275 0.85,-9.4 0.85,-8.0 C0.85,-4.6 6.875,-6.6 6.875,-3.05 C6.875,-1.55 5.6,-0.725 3.8,-0.725 C2.15,-0.725 1.05,-1.3 0.45,-2.3 M3.8,-12.1 V1.2"/><path transform="translate(608.18 380.00) scale(1.0)" d="M2.975,-11 V0 M0.45,-8.75 L2.7,-10.45"/><path transform="translate(613.93 380.00) scale(1.0)" d="M0.725,-5.5 A4.075,4.775 0 1 0 8.875,-5.5 A4.075,4.775 0 1 0 0.725,-5.5 Z"/><path transform="translate(629.48 380.00) scale(1.0)" d="M0.725,-5.5 A4.075,4.775 0 1 0 8.875,-5.5 A4.075,4.775 0 1 0 0.725,-5.5 Z"/></g><g fill="#231f49"><rect x="625.58" y="378.15" width="1.85" height="1.85" rx="0.35"/></g></g>
<g role="img" aria-label="$12.6"><g fill="none" stroke="#e9b34a" stroke-width="1.500"><path transform="translate(649.29 228.20) scale(1.0)" d="M6.95,-8.95 C6.35,-9.8 5.25,-10.275 3.8,-10.275 C2.0,-10.275 0.85,-9.4 0.85,-8.0 C0.85,-4.6 6.875,-6.6 6.875,-3.05 C6.875,-1.55 5.6,-0.725 3.8,-0.725 C2.15,-0.725 1.05,-1.3 0.45,-2.3 M3.8,-12.1 V1.2"/><path transform="translate(658.94 228.20) scale(1.0)" d="M2.975,-11 V0 M0.45,-8.75 L2.7,-10.45"/><path transform="translate(664.69 228.20) scale(1.0)" d="M0.8,-8.2 C1.25,-9.6 2.45,-10.275 3.95,-10.275 C5.75,-10.275 7.0,-9.15 7.0,-7.65 C7.0,-6.55 6.45,-5.75 5.35,-4.7 L0.95,-0.725 H7.75"/><path transform="translate(678.39 228.20) scale(1.0)" d="M0.725,-3.9 A3.575,3.175 0 1 0 7.875,-3.9 A3.575,3.175 0 1 0 0.725,-3.9 C0.725,-7.6 2.6,-10.275 5.0,-10.275 C6.0,-10.275 6.75,-9.95 7.35,-9.35"/></g><g fill="#e9b34a"><rect x="674.49" y="226.35" width="1.85" height="1.85" rx="0.35"/></g></g>
<g role="img" aria-label="$9.8"><g fill="none" stroke="#231f49" stroke-width="1.500"><path transform="translate(651.94 391.30) scale(1.0)" d="M6.95,-8.95 C6.35,-9.8 5.25,-10.275 3.8,-10.275 C2.0,-10.275 0.85,-9.4 0.85,-8.0 C0.85,-4.6 6.875,-6.6 6.875,-3.05 C6.875,-1.55 5.6,-0.725 3.8,-0.725 C2.15,-0.725 1.05,-1.3 0.45,-2.3 M3.8,-12.1 V1.2"/><path transform="translate(661.59 391.30) scale(1.0)" d="M7.875,-7.1 A3.575,3.175 0 1 0 0.725,-7.1 A3.575,3.175 0 1 0 7.875,-7.1 C7.875,-3.4 6.0,-0.725 3.6,-0.725 C2.6,-0.725 1.85,-1.05 1.25,-1.65"/><path transform="translate(676.14 391.30) scale(1.0)" d="M4.1,-5.9 A2.875,2.19 0 1 1 4.1,-10.275 A2.875,2.19 0 1 1 4.1,-5.9 A3.375,2.59 0 1 0 4.1,-0.725 A3.375,2.59 0 1 0 4.1,-5.9 Z"/></g><g fill="#231f49"><rect x="672.24" y="389.45" width="1.85" height="1.85" rx="0.35"/></g></g>
<g role="img" aria-label="$12.4"><g fill="none" stroke="#e9b34a" stroke-width="1.500"><path transform="translate(698.68 233.70) scale(1.0)" d="M6.95,-8.95 C6.35,-9.8 5.25,-10.275 3.8,-10.275 C2.0,-10.275 0.85,-9.4 0.85,-8.0 C0.85,-4.6 6.875,-6.6 6.875,-3.05 C6.875,-1.55 5.6,-0.725 3.8,-0.725 C2.15,-0.725 1.05,-1.3 0.45,-2.3 M3.8,-12.1 V1.2"/><path transform="translate(708.33 233.70) scale(1.0)" d="M2.975,-11 V0 M0.45,-8.75 L2.7,-10.45"/><path transform="translate(714.08 233.70) scale(1.0)" d="M0.8,-8.2 C1.25,-9.6 2.45,-10.275 3.95,-10.275 C5.75,-10.275 7.0,-9.15 7.0,-7.65 C7.0,-6.55 6.45,-5.75 5.35,-4.7 L0.95,-0.725 H7.75"/><path transform="translate(727.78 233.70) scale(1.0)" d="M6.05,-10.45 L0.725,-3.4 H8.5 M6.35,-11 V0"/></g><g fill="#e9b34a"><rect x="723.88" y="231.85" width="1.85" height="1.85" rx="0.35"/></g></g>
<g role="img" aria-label="$9.7"><g fill="none" stroke="#231f49" stroke-width="1.500"><path transform="translate(701.83 392.60) scale(1.0)" d="M6.95,-8.95 C6.35,-9.8 5.25,-10.275 3.8,-10.275 C2.0,-10.275 0.85,-9.4 0.85,-8.0 C0.85,-4.6 6.875,-6.6 6.875,-3.05 C6.875,-1.55 5.6,-0.725 3.8,-0.725 C2.15,-0.725 1.05,-1.3 0.45,-2.3 M3.8,-12.1 V1.2"/><path transform="translate(711.48 392.60) scale(1.0)" d="M7.875,-7.1 A3.575,3.175 0 1 0 0.725,-7.1 A3.575,3.175 0 1 0 7.875,-7.1 C7.875,-3.4 6.0,-0.725 3.6,-0.725 C2.6,-0.725 1.85,-1.05 1.25,-1.65"/><path transform="translate(726.03 392.60) scale(1.0)" d="M0.3,-10.275 H6.75 L2.35,0"/></g><g fill="#231f49"><rect x="722.13" y="390.75" width="1.85" height="1.85" rx="0.35"/></g></g>
<g role="img" aria-label="$12.4"><g fill="none" stroke="#e9b34a" stroke-width="1.500"><path transform="translate(748.02 235.10) scale(1.0)" d="M6.95,-8.95 C6.35,-9.8 5.25,-10.275 3.8,-10.275 C2.0,-10.275 0.85,-9.4 0.85,-8.0 C0.85,-4.6 6.875,-6.6 6.875,-3.05 C6.875,-1.55 5.6,-0.725 3.8,-0.725 C2.15,-0.725 1.05,-1.3 0.45,-2.3 M3.8,-12.1 V1.2"/><path transform="translate(757.67 235.10) scale(1.0)" d="M2.975,-11 V0 M0.45,-8.75 L2.7,-10.45"/><path transform="translate(763.42 235.10) scale(1.0)" d="M0.8,-8.2 C1.25,-9.6 2.45,-10.275 3.95,-10.275 C5.75,-10.275 7.0,-9.15 7.0,-7.65 C7.0,-6.55 6.45,-5.75 5.35,-4.7 L0.95,-0.725 H7.75"/><path transform="translate(777.12 235.10) scale(1.0)" d="M6.05,-10.45 L0.725,-3.4 H8.5 M6.35,-11 V0"/></g><g fill="#e9b34a"><rect x="773.22" y="233.25" width="1.85" height="1.85" rx="0.35"/></g></g>
<g role="img" aria-label="$9.7"><g fill="none" stroke="#231f49" stroke-width="1.500"><path transform="translate(751.17 395.80) scale(1.0)" d="M6.95,-8.95 C6.35,-9.8 5.25,-10.275 3.8,-10.275 C2.0,-10.275 0.85,-9.4 0.85,-8.0 C0.85,-4.6 6.875,-6.6 6.875,-3.05 C6.875,-1.55 5.6,-0.725 3.8,-0.725 C2.15,-0.725 1.05,-1.3 0.45,-2.3 M3.8,-12.1 V1.2"/><path transform="translate(760.82 395.80) scale(1.0)" d="M7.875,-7.1 A3.575,3.175 0 1 0 0.725,-7.1 A3.575,3.175 0 1 0 7.875,-7.1 C7.875,-3.4 6.0,-0.725 3.6,-0.725 C2.6,-0.725 1.85,-1.05 1.25,-1.65"/><path transform="translate(775.37 395.80) scale(1.0)" d="M0.3,-10.275 H6.75 L2.35,0"/></g><g fill="#231f49"><rect x="771.47" y="393.95" width="1.85" height="1.85" rx="0.35"/></g></g>
<g role="img" aria-label="$12.3"><g fill="none" stroke="#e9b34a" stroke-width="1.500"><path transform="translate(797.74 239.40) scale(1.0)" d="M6.95,-8.95 C6.35,-9.8 5.25,-10.275 3.8,-10.275 C2.0,-10.275 0.85,-9.4 0.85,-8.0 C0.85,-4.6 6.875,-6.6 6.875,-3.05 C6.875,-1.55 5.6,-0.725 3.8,-0.725 C2.15,-0.725 1.05,-1.3 0.45,-2.3 M3.8,-12.1 V1.2"/><path transform="translate(807.38 239.40) scale(1.0)" d="M2.975,-11 V0 M0.45,-8.75 L2.7,-10.45"/><path transform="translate(813.13 239.40) scale(1.0)" d="M0.8,-8.2 C1.25,-9.6 2.45,-10.275 3.95,-10.275 C5.75,-10.275 7.0,-9.15 7.0,-7.65 C7.0,-6.55 6.45,-5.75 5.35,-4.7 L0.95,-0.725 H7.75"/><path transform="translate(826.83 239.40) scale(1.0)" d="M0.75,-10.275 H6.85 L3.65,-6.55 C5.8,-6.55 7.025,-5.25 7.025,-3.55 C7.025,-1.8 5.7,-0.725 3.85,-0.725 C2.35,-0.725 1.15,-1.35 0.55,-2.45"/></g><g fill="#e9b34a"><rect x="822.93" y="237.55" width="1.85" height="1.85" rx="0.35"/></g></g>
<g role="img" aria-label="$9.7"><g fill="none" stroke="#231f49" stroke-width="1.500"><path transform="translate(800.51 393.60) scale(1.0)" d="M6.95,-8.95 C6.35,-9.8 5.25,-10.275 3.8,-10.275 C2.0,-10.275 0.85,-9.4 0.85,-8.0 C0.85,-4.6 6.875,-6.6 6.875,-3.05 C6.875,-1.55 5.6,-0.725 3.8,-0.725 C2.15,-0.725 1.05,-1.3 0.45,-2.3 M3.8,-12.1 V1.2"/><path transform="translate(810.16 393.60) scale(1.0)" d="M7.875,-7.1 A3.575,3.175 0 1 0 0.725,-7.1 A3.575,3.175 0 1 0 7.875,-7.1 C7.875,-3.4 6.0,-0.725 3.6,-0.725 C2.6,-0.725 1.85,-1.05 1.25,-1.65"/><path transform="translate(824.71 393.60) scale(1.0)" d="M0.3,-10.275 H6.75 L2.35,0"/></g><g fill="#231f49"><rect x="820.81" y="391.75" width="1.85" height="1.85" rx="0.35"/></g></g>
<g role="img" aria-label="$12.2"><g fill="none" stroke="#e9b34a" stroke-width="1.500"><path transform="translate(847.08 243.80) scale(1.0)" d="M6.95,-8.95 C6.35,-9.8 5.25,-10.275 3.8,-10.275 C2.0,-10.275 0.85,-9.4 0.85,-8.0 C0.85,-4.6 6.875,-6.6 6.875,-3.05 C6.875,-1.55 5.6,-0.725 3.8,-0.725 C2.15,-0.725 1.05,-1.3 0.45,-2.3 M3.8,-12.1 V1.2"/><path transform="translate(856.73 243.80) scale(1.0)" d="M2.975,-11 V0 M0.45,-8.75 L2.7,-10.45"/><path transform="translate(862.48 243.80) scale(1.0)" d="M0.8,-8.2 C1.25,-9.6 2.45,-10.275 3.95,-10.275 C5.75,-10.275 7.0,-9.15 7.0,-7.65 C7.0,-6.55 6.45,-5.75 5.35,-4.7 L0.95,-0.725 H7.75"/><path transform="translate(876.17 243.80) scale(1.0)" d="M0.8,-8.2 C1.25,-9.6 2.45,-10.275 3.95,-10.275 C5.75,-10.275 7.0,-9.15 7.0,-7.65 C7.0,-6.55 6.45,-5.75 5.35,-4.7 L0.95,-0.725 H7.75"/></g><g fill="#e9b34a"><rect x="872.27" y="241.95" width="1.85" height="1.85" rx="0.35"/></g></g>
<g role="img" aria-label="$9.5"><g fill="none" stroke="#231f49" stroke-width="1.500"><path transform="translate(849.73 404.90) scale(1.0)" d="M6.95,-8.95 C6.35,-9.8 5.25,-10.275 3.8,-10.275 C2.0,-10.275 0.85,-9.4 0.85,-8.0 C0.85,-4.6 6.875,-6.6 6.875,-3.05 C6.875,-1.55 5.6,-0.725 3.8,-0.725 C2.15,-0.725 1.05,-1.3 0.45,-2.3 M3.8,-12.1 V1.2"/><path transform="translate(859.38 404.90) scale(1.0)" d="M7.875,-7.1 A3.575,3.175 0 1 0 0.725,-7.1 A3.575,3.175 0 1 0 7.875,-7.1 C7.875,-3.4 6.0,-0.725 3.6,-0.725 C2.6,-0.725 1.85,-1.05 1.25,-1.65"/><path transform="translate(873.92 404.90) scale(1.0)" d="M6.8,-10.275 H1.65 L1.15,-5.95 C1.95,-6.55 2.85,-6.85 3.85,-6.85 C5.6,-6.85 6.625,-5.5 6.625,-3.8 C6.625,-1.95 5.4,-0.725 3.7,-0.725 C2.3,-0.725 1.2,-1.35 0.6,-2.35"/></g><g fill="#231f49"><rect x="870.02" y="403.05" width="1.85" height="1.85" rx="0.35"/></g></g>
<g role="img" aria-label="$12.1"><g fill="none" stroke="#e9b34a" stroke-width="1.500"><path transform="translate(898.44 250.60) scale(1.0)" d="M6.95,-8.95 C6.35,-9.8 5.25,-10.275 3.8,-10.275 C2.0,-10.275 0.85,-9.4 0.85,-8.0 C0.85,-4.6 6.875,-6.6 6.875,-3.05 C6.875,-1.55 5.6,-0.725 3.8,-0.725 C2.15,-0.725 1.05,-1.3 0.45,-2.3 M3.8,-12.1 V1.2"/><path transform="translate(908.09 250.60) scale(1.0)" d="M2.975,-11 V0 M0.45,-8.75 L2.7,-10.45"/><path transform="translate(913.84 250.60) scale(1.0)" d="M0.8,-8.2 C1.25,-9.6 2.45,-10.275 3.95,-10.275 C5.75,-10.275 7.0,-9.15 7.0,-7.65 C7.0,-6.55 6.45,-5.75 5.35,-4.7 L0.95,-0.725 H7.75"/><path transform="translate(927.54 250.60) scale(1.0)" d="M2.975,-11 V0 M0.45,-8.75 L2.7,-10.45"/></g><g fill="#e9b34a"><rect x="923.64" y="248.75" width="1.85" height="1.85" rx="0.35"/></g></g>
<g role="img" aria-label="$9.4"><g fill="none" stroke="#231f49" stroke-width="1.500"><path transform="translate(898.49 407.00) scale(1.0)" d="M6.95,-8.95 C6.35,-9.8 5.25,-10.275 3.8,-10.275 C2.0,-10.275 0.85,-9.4 0.85,-8.0 C0.85,-4.6 6.875,-6.6 6.875,-3.05 C6.875,-1.55 5.6,-0.725 3.8,-0.725 C2.15,-0.725 1.05,-1.3 0.45,-2.3 M3.8,-12.1 V1.2"/><path transform="translate(908.14 407.00) scale(1.0)" d="M7.875,-7.1 A3.575,3.175 0 1 0 0.725,-7.1 A3.575,3.175 0 1 0 7.875,-7.1 C7.875,-3.4 6.0,-0.725 3.6,-0.725 C2.6,-0.725 1.85,-1.05 1.25,-1.65"/><path transform="translate(922.69 407.00) scale(1.0)" d="M6.05,-10.45 L0.725,-3.4 H8.5 M6.35,-11 V0"/></g><g fill="#231f49"><rect x="918.79" y="405.15" width="1.85" height="1.85" rx="0.35"/></g></g>
<g role="img" aria-label="$12.1"><g fill="none" stroke="#e9b34a" stroke-width="1.500"><path transform="translate(947.78 250.60) scale(1.0)" d="M6.95,-8.95 C6.35,-9.8 5.25,-10.275 3.8,-10.275 C2.0,-10.275 0.85,-9.4 0.85,-8.0 C0.85,-4.6 6.875,-6.6 6.875,-3.05 C6.875,-1.55 5.6,-0.725 3.8,-0.725 C2.15,-0.725 1.05,-1.3 0.45,-2.3 M3.8,-12.1 V1.2"/><path transform="translate(957.43 250.60) scale(1.0)" d="M2.975,-11 V0 M0.45,-8.75 L2.7,-10.45"/><path transform="translate(963.18 250.60) scale(1.0)" d="M0.8,-8.2 C1.25,-9.6 2.45,-10.275 3.95,-10.275 C5.75,-10.275 7.0,-9.15 7.0,-7.65 C7.0,-6.55 6.45,-5.75 5.35,-4.7 L0.95,-0.725 H7.75"/><path transform="translate(976.88 250.60) scale(1.0)" d="M2.975,-11 V0 M0.45,-8.75 L2.7,-10.45"/></g><g fill="#e9b34a"><rect x="972.98" y="248.75" width="1.85" height="1.85" rx="0.35"/></g></g>
<g role="img" aria-label="$9.4"><g fill="none" stroke="#231f49" stroke-width="1.500"><path transform="translate(947.83 407.00) scale(1.0)" d="M6.95,-8.95 C6.35,-9.8 5.25,-10.275 3.8,-10.275 C2.0,-10.275 0.85,-9.4 0.85,-8.0 C0.85,-4.6 6.875,-6.6 6.875,-3.05 C6.875,-1.55 5.6,-0.725 3.8,-0.725 C2.15,-0.725 1.05,-1.3 0.45,-2.3 M3.8,-12.1 V1.2"/><path transform="translate(957.48 407.00) scale(1.0)" d="M7.875,-7.1 A3.575,3.175 0 1 0 0.725,-7.1 A3.575,3.175 0 1 0 7.875,-7.1 C7.875,-3.4 6.0,-0.725 3.6,-0.725 C2.6,-0.725 1.85,-1.05 1.25,-1.65"/><path transform="translate(972.03 407.00) scale(1.0)" d="M6.05,-10.45 L0.725,-3.4 H8.5 M6.35,-11 V0"/></g><g fill="#231f49"><rect x="968.13" y="405.15" width="1.85" height="1.85" rx="0.35"/></g></g>
<g role="img" aria-label="$11.9"><g fill="none" stroke="#e9b34a" stroke-width="1.500"><path transform="translate(996.70 255.90) scale(1.0)" d="M6.95,-8.95 C6.35,-9.8 5.25,-10.275 3.8,-10.275 C2.0,-10.275 0.85,-9.4 0.85,-8.0 C0.85,-4.6 6.875,-6.6 6.875,-3.05 C6.875,-1.55 5.6,-0.725 3.8,-0.725 C2.15,-0.725 1.05,-1.3 0.45,-2.3 M3.8,-12.1 V1.2"/><path transform="translate(1006.35 255.90) scale(1.0)" d="M2.975,-11 V0 M0.45,-8.75 L2.7,-10.45"/><path transform="translate(1012.10 255.90) scale(1.0)" d="M2.975,-11 V0 M0.45,-8.75 L2.7,-10.45"/><path transform="translate(1021.75 255.90) scale(1.0)" d="M7.875,-7.1 A3.575,3.175 0 1 0 0.725,-7.1 A3.575,3.175 0 1 0 7.875,-7.1 C7.875,-3.4 6.0,-0.725 3.6,-0.725 C2.6,-0.725 1.85,-1.05 1.25,-1.65"/></g><g fill="#e9b34a"><rect x="1017.85" y="254.05" width="1.85" height="1.85" rx="0.35"/></g></g>
<g role="img" aria-label="$9.3"><g fill="none" stroke="#231f49" stroke-width="1.500"><path transform="translate(997.55 412.60) scale(1.0)" d="M6.95,-8.95 C6.35,-9.8 5.25,-10.275 3.8,-10.275 C2.0,-10.275 0.85,-9.4 0.85,-8.0 C0.85,-4.6 6.875,-6.6 6.875,-3.05 C6.875,-1.55 5.6,-0.725 3.8,-0.725 C2.15,-0.725 1.05,-1.3 0.45,-2.3 M3.8,-12.1 V1.2"/><path transform="translate(1007.20 412.60) scale(1.0)" d="M7.875,-7.1 A3.575,3.175 0 1 0 0.725,-7.1 A3.575,3.175 0 1 0 7.875,-7.1 C7.875,-3.4 6.0,-0.725 3.6,-0.725 C2.6,-0.725 1.85,-1.05 1.25,-1.65"/><path transform="translate(1021.75 412.60) scale(1.0)" d="M0.75,-10.275 H6.85 L3.65,-6.55 C5.8,-6.55 7.025,-5.25 7.025,-3.55 C7.025,-1.8 5.7,-0.725 3.85,-0.725 C2.35,-0.725 1.15,-1.35 0.55,-2.45"/></g><g fill="#231f49"><rect x="1017.85" y="410.75" width="1.85" height="1.85" rx="0.35"/></g></g>
<g font-size="14.8" fill="#5c5f62">
<text class="cat" transform="translate(113.50 495.70) rotate(-45) scale(1.08 1)" textLength="36.21" lengthAdjust="spacing">Reno</text>
<text class="cat" transform="translate(150.30 513.10) rotate(-45) scale(1.08 1)" textLength="58.34" lengthAdjust="spacing">Chicago</text>
<text class="cat" transform="translate(190.00 528.70) rotate(-45) scale(1.08 1)" textLength="80.34" lengthAdjust="spacing">Des Moines</text>
<text class="cat" transform="translate(248.50 508.10) rotate(-45) scale(1.08 1)" textLength="52.12" lengthAdjust="spacing">Newark</text>
<text class="cat" transform="translate(267.00 542.30) rotate(-45) scale(1.08 1)" textLength="98.54" lengthAdjust="spacing">San Francisco</text>
<text class="cat" transform="translate(334.10 530.50) rotate(-45) scale(1.08 1)" textLength="82.36" lengthAdjust="spacing">Kansas City</text>
<text class="cat" transform="translate(387.80 520.90) rotate(-45) scale(1.08 1)" textLength="71.89" lengthAdjust="spacing">Cheyenne</text>
<text class="cat" transform="translate(437.20 522.70) rotate(-45) scale(1.08 1)" textLength="71.43" lengthAdjust="spacing">Las Vegas</text>
<text class="cat" transform="translate(484.20 528.10) rotate(-45) scale(1.08 1)" textLength="78.76" lengthAdjust="spacing">Wenatchee</text>
<text class="cat" transform="translate(535.30 521.50) rotate(-45) scale(1.08 1)" textLength="70.38" lengthAdjust="spacing">Columbus</text>
<text class="cat" transform="translate(586.60 513.90) rotate(-45) scale(1.08 1)" textLength="61.61" lengthAdjust="spacing">Portland</text>
<text class="cat" transform="translate(636.40 511.10) rotate(-45) scale(1.08 1)" textLength="56.96" lengthAdjust="spacing">Phoenix</text>
<text class="cat" transform="translate(687.60 509.70) rotate(-45) scale(1.08 1)" textLength="54.28" lengthAdjust="spacing">Virginia</text>
<text class="cat" transform="translate(736.10 505.10) rotate(-45) scale(1.08 1)" textLength="49.17" lengthAdjust="spacing">Atlanta</text>
<text class="cat" transform="translate(753.60 541.50) rotate(-45) scale(1.08 1)" textLength="96.25" lengthAdjust="spacing">Salt Lake City</text>
<text class="cat" transform="translate(833.50 507.50) rotate(-45) scale(1.08 1)" textLength="49.89" lengthAdjust="spacing">Omaha</text>
<text class="cat" transform="translate(887.70 500.70) rotate(-45) scale(1.08 1)" textLength="42.75" lengthAdjust="spacing">Dallas</text>
<text class="cat" transform="translate(937.40 502.10) rotate(-45) scale(1.08 1)" textLength="44.78" lengthAdjust="spacing">Austin</text>
<text class="cat" transform="translate(964.90 533.90) rotate(-45) scale(1.08 1)" textLength="87.28" lengthAdjust="spacing">San Antonio</text>
</g>
<circle cx="280.3" cy="562.1" r="4.55" fill="none" stroke="#231f49" stroke-width="1.55"/>
<circle cx="460.6" cy="562.1" r="4.55" fill="none" stroke="#3d96af" stroke-width="1.55"/>
<circle cx="635.9" cy="562.1" r="4.55" fill="none" stroke="#e9b34a" stroke-width="1.55"/>
<g font-size="15" fill="#5c5f62">
<text transform="translate(292 567.7) scale(1.06 1)" textLength="134.91" lengthAdjust="spacing">Low (U.S. $M/MW)</text>
<text transform="translate(472 567.7) scale(1.06 1)" textLength="131.13" lengthAdjust="spacing">Mid (U.S. $M/MW)</text>
<text transform="translate(648 567.7) scale(1.06 1)" textLength="138.68" lengthAdjust="spacing">High (U.S. $M/MW)</text>
</g>
<text transform="translate(664 611.3) scale(1.08 1)" font-size="14.6" font-style="italic" fill="#8b8d8f" textLength="346.30" lengthAdjust="spacing">Source: Cushman &amp; Wakefield Research, Turton Bond</text>
</svg></body></html>
